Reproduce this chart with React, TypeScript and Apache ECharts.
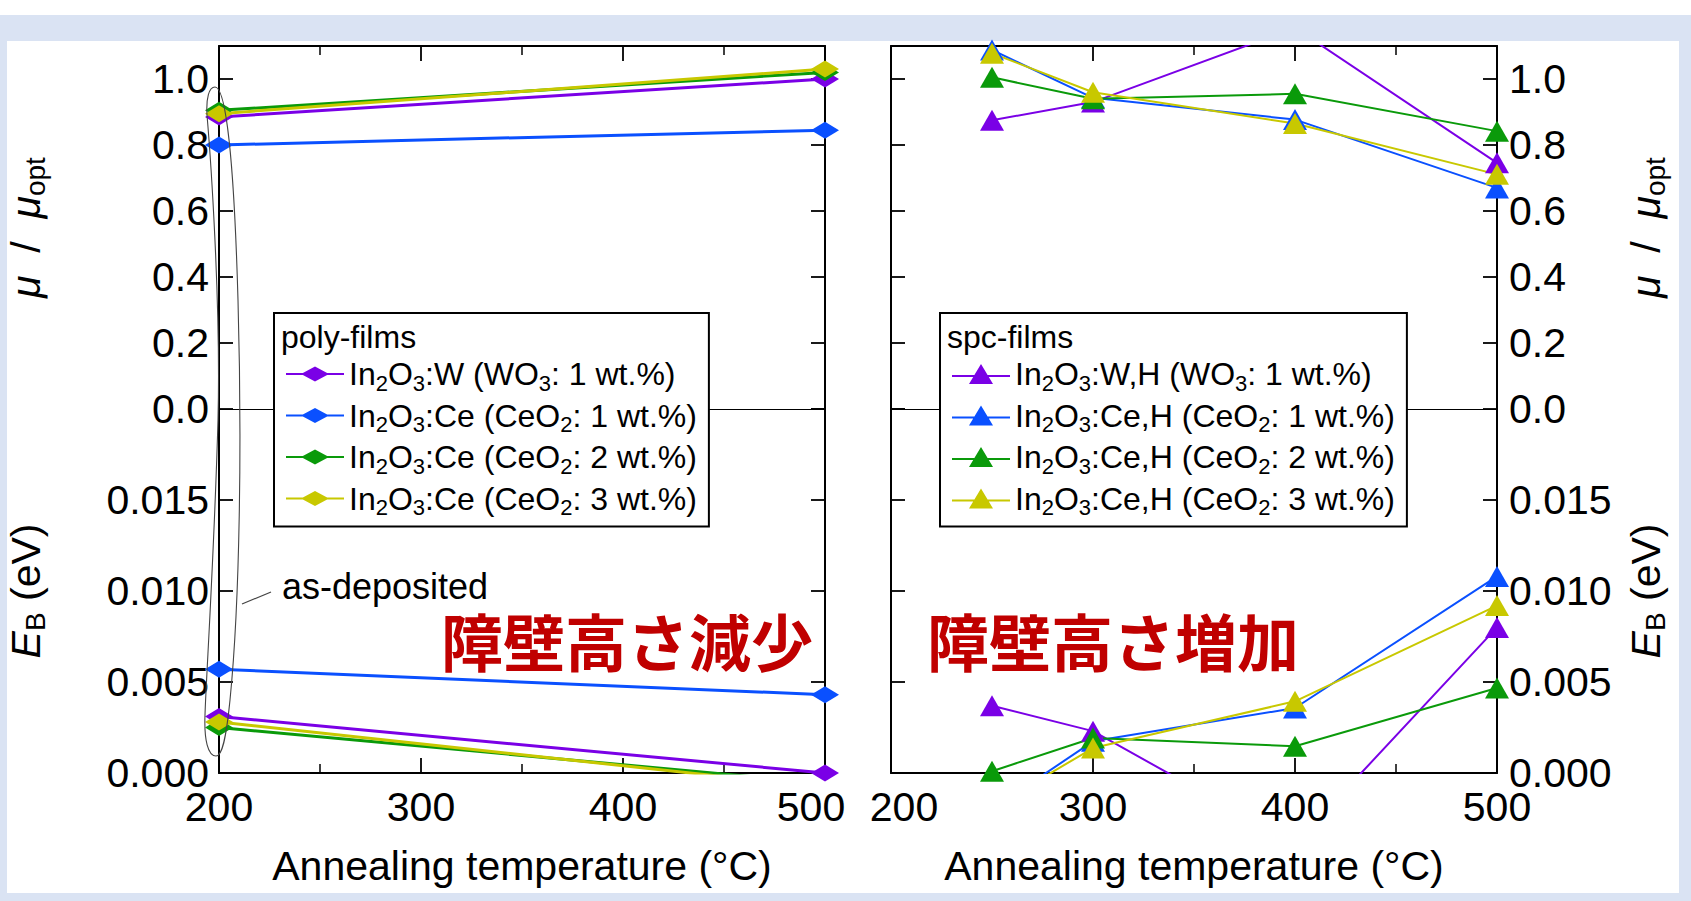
import React, { useEffect, useRef } from 'react';
import * as echarts from 'echarts';

// ---------- data ----------
const tempsPoly = [200, 500];
const tempsSpc = [250, 300, 400, 500];

const polyNames = [
  'In2O3:W (WO3: 1 wt.%)',
  'In2O3:Ce (CeO2: 1 wt.%)',
  'In2O3:Ce (CeO2: 2 wt.%)',
  'In2O3:Ce (CeO2: 3 wt.%)',
];
const spcNames = [
  'In2O3:W,H (WO3: 1 wt.%)',
  'In2O3:Ce,H (CeO2: 1 wt.%)',
  'In2O3:Ce,H (CeO2: 2 wt.%)',
  'In2O3:Ce,H (CeO2: 3 wt.%)',
];
const seriesColors = ['#7A00E6', '#0A50FF', '#0A9A0A', '#C8C800'];

// mobility ratio mu/mu_opt, poly-films
const muPolyW = [0.885, 1.0];
const muPolyCe1 = [0.8, 0.845];
const muPolyCe2 = [0.905, 1.02];
const muPolyCe3 = [0.895, 1.03];
// barrier height EB (eV), poly-films
const ebPolyW = [0.0031, 0.0];
const ebPolyCe1 = [0.0057, 0.0043];
const ebPolyCe2 = [0.0025, -0.00057];
const ebPolyCe3 = [0.0028, -0.0008];

// mobility ratio, spc-films
const muSpcW = [0.875, 0.93, 1.155, 0.746];
const muSpcCe1 = [1.088, 0.943, 0.877, 0.67];
const muSpcCe2 = [1.005, 0.94, 0.955, 0.842];
const muSpcCe3 = [1.078, 0.96, 0.865, 0.711];
// barrier height, spc-films
const ebSpcW = [0.0037, 0.0023, -0.0039, 0.008];
const ebSpcCe1 = [-0.002, 0.00174, 0.00357, 0.0108];
const ebSpcCe2 = [0.0001, 0.00192, 0.00147, 0.00467];
const ebSpcCe3 = [-0.0019, 0.00137, 0.00394, 0.0092];

const muPoly = [muPolyW, muPolyCe1, muPolyCe2, muPolyCe3];
const ebPoly = [ebPolyW, ebPolyCe1, ebPolyCe2, ebPolyCe3];
const muSpc = [muSpcW, muSpcCe1, muSpcCe2, muSpcCe3];
const ebSpc = [ebSpcW, ebSpcCe1, ebSpcCe2, ebSpcCe3];

// ---------- styling ----------
const FONT = "'Liberation Sans', Arial, Helvetica, sans-serif";
const TICK_FS = 41;
const NAME_FS = 41;
const LEG_FS = 32;

const diamondIcon =
  'path://M0,6.5 H16.87 L29,0 L41.13,6.5 H58 V8.5 H41.13 L29,15 L16.87,8.5 H0 Z';
const triangleIcon =
  'path://M0,11 H22.4 L29,0 L35.6,11 H58 V13 H36.8 L41,20 H17 L21.2,13 H0 Z';

const ellipsePath =
  'M215,87 C226,87 234,160 238,300 C242,440 240,600 230,700 C226,740 222,756 216,756 C208,756 204,740 205,715 C206,680 214,560 218,420 C221,300 210,150 207,115 C206,98 209,87 215,87 Z';

let shapeRegistered = false;
function registerShapes() {
  if (shapeRegistered) return;
  echarts.graphic.registerShape('asdepEllipse', echarts.graphic.extendPath(ellipsePath, {}));
  shapeRegistered = true;
}

function richName(s: string): string {
  let out = '';
  let buf = '';
  for (let i = 0; i < s.length; i++) {
    const c = s[i];
    if (/\d/.test(c) && i > 0 && /[A-Za-z]/.test(s[i - 1])) {
      if (buf) {
        out += `{n|${buf}}`;
        buf = '';
      }
      out += `{s|${c}}`;
    } else {
      buf += c;
    }
  }
  if (buf) out += `{n|${buf}}`;
  return out;
}

const legendRich = {
  n: { fontSize: LEG_FS, fontFamily: FONT, color: '#000', lineHeight: 34 },
  s: { fontSize: 22, fontFamily: FONT, color: '#000', lineHeight: 34, padding: [18, 0, 0, 0] },
};

const nameRich = {
  i: { fontSize: NAME_FS, fontFamily: FONT, fontStyle: 'italic', color: '#000', lineHeight: 46 },
  n: { fontSize: NAME_FS, fontFamily: FONT, color: '#000', lineHeight: 46 },
  s: { fontSize: 28, fontFamily: FONT, color: '#000', lineHeight: 46, padding: [18, 0, 0, 0] },
};

const muName = '{i|μ}{n|  /  }{i|μ}{s|opt}';
const ebName = '{i|E}{s|B}{n| (eV)}';

const LINE = { color: '#000', width: 2 };

function xAxisFull(gridIndex: number, position: 'top' | 'bottom', withLabels: boolean, shift: number) {
  return {
    type: 'value',
    gridIndex,
    position,
    min: 200,
    max: 500,
    interval: 100,
    axisLine: { show: true, onZero: false, lineStyle: LINE },
    axisTick: { show: true, inside: true, length: 15, lineStyle: { color: '#000', width: 1.8 } },
    minorTick: { show: true, splitNumber: 2, length: 9, lineStyle: { color: '#000', width: 1.5 } },
    splitLine: { show: false },
    minorSplitLine: { show: false },
    axisLabel: withLabels
      ? {
          show: true,
          margin: 13,
          color: '#000',
          fontSize: TICK_FS,
          fontFamily: FONT,
          formatter: (v: number) => {
            if (shift < 0 && v === 500) return '{r|500}';
            if (shift > 0 && v === 200) return '{l|200}';
            return String(v);
          },
          rich: {
            r: { fontSize: TICK_FS, fontFamily: FONT, color: '#000', padding: [0, -shift * 2, 0, 0] },
            l: { fontSize: TICK_FS, fontFamily: FONT, color: '#000', padding: [0, 0, 0, shift * 2] },
          },
        }
      : { show: false },
    name: withLabels ? 'Annealing temperature (°C)' : '',
    nameLocation: 'middle',
    nameGap: 72,
    nameTextStyle: { fontSize: NAME_FS, fontFamily: FONT, color: '#000' },
  };
}

function xAxisThin(gridIndex: number) {
  return {
    type: 'value',
    gridIndex,
    position: 'bottom',
    min: 200,
    max: 500,
    interval: 100,
    axisLine: { show: true, onZero: false, lineStyle: { color: '#000', width: 1 } },
    axisTick: { show: false },
    axisLabel: { show: false },
    splitLine: { show: false },
  };
}

function yAxis(
  gridIndex: number,
  position: 'left' | 'right',
  upper: boolean,
  withLabels: boolean,
) {
  const isLeft = position === 'left';
  return {
    type: 'value',
    gridIndex,
    position,
    min: 0,
    max: upper ? 1.1 : 0.02,
    interval: upper ? 0.2 : 0.005,
    axisLine: { show: true, onZero: false, lineStyle: LINE },
    axisTick: { show: true, inside: true, length: 14, lineStyle: { color: '#000', width: 1.8 } },
    splitLine: { show: false },
    axisLabel: withLabels
      ? {
          show: true,
          showMaxLabel: false,
          margin: isLeft ? 10 : 12,
          color: '#000',
          fontSize: TICK_FS,
          fontFamily: FONT,
          formatter: (v: number) => (upper ? v.toFixed(1) : v.toFixed(3)),
        }
      : { show: false },
    name: withLabels ? (upper ? muName : ebName) : '',
    nameLocation: 'middle',
    nameRotate: 90,
    nameGap: isLeft ? 170 : 126,
    nameTextStyle: { rich: nameRich, fontSize: NAME_FS, fontFamily: FONT, color: '#000' },
  };
}

function lineSeries(
  name: string,
  color: string,
  xs: number[],
  ys: number[],
  xAxisIndex: number,
  yAxisIndex: number,
  symbol: string,
  symbolSize: number[],
  width: number,
) {
  return {
    type: 'line',
    name,
    xAxisIndex,
    yAxisIndex,
    data: xs.map((x, i) => [x, ys[i]]),
    symbol,
    symbolSize,
    showSymbol: true,
    clip: true,
    itemStyle: { color, borderWidth: 0 },
    lineStyle: { color, width },
    emphasis: { disabled: true },
  };
}

function buildOption() {
  const series: any[] = [];
  for (let k = 0; k < 4; k++) {
    series.push(lineSeries(polyNames[k], seriesColors[k], tempsPoly, muPoly[k], 0, 0, 'diamond', [28, 17], 3));
    series.push(lineSeries(polyNames[k], seriesColors[k], tempsPoly, ebPoly[k], 2, 2, 'diamond', [28, 17], 3));
  }
  for (let k = 0; k < 4; k++) {
    series.push(lineSeries(spcNames[k], seriesColors[k], tempsSpc, muSpc[k], 3, 4, 'triangle', [24, 21], 2));
    series.push(lineSeries(spcNames[k], seriesColors[k], tempsSpc, ebSpc[k], 5, 6, 'triangle', [24, 21], 2));
  }

  const legendBase = {
    orient: 'vertical',
    top: 313,
    padding: [41, 12, 8, 12],
    itemGap: 1.5,
    itemWidth: 58,
    backgroundColor: '#fff',
    borderColor: '#000',
    borderWidth: 2,
    borderRadius: 0,
    selectedMode: false,
    formatter: (n: string) => richName(n),
    textStyle: { fontSize: LEG_FS, fontFamily: FONT, color: '#000', rich: legendRich },
    itemStyle: { borderWidth: 0 },
    z: 4,
  };

  return {
    animation: false,
    backgroundColor: '#DAE3F3',
    textStyle: { fontFamily: FONT },
    grid: [
      { left: 219, top: 46, width: 606, height: 363 },
      { left: 219, top: 409, width: 606, height: 364 },
      { left: 891, top: 46, width: 606, height: 363 },
      { left: 891, top: 409, width: 606, height: 364 },
    ],
    xAxis: [
      xAxisThin(0),
      xAxisFull(0, 'top', false, 0),
      xAxisFull(1, 'bottom', true, -14),
      xAxisThin(2),
      xAxisFull(2, 'top', false, 0),
      xAxisFull(3, 'bottom', true, 13),
    ],
    yAxis: [
      yAxis(0, 'left', true, true),
      yAxis(0, 'right', true, false),
      yAxis(1, 'left', false, true),
      yAxis(1, 'right', false, false),
      yAxis(2, 'left', true, false),
      yAxis(2, 'right', true, true),
      yAxis(3, 'left', false, false),
      yAxis(3, 'right', false, true),
    ],
    legend: [
      { ...legendBase, left: 274, data: polyNames, icon: diamondIcon, itemHeight: 15 },
      { ...legendBase, left: 940, data: spcNames, icon: triangleIcon, itemHeight: 20 },
    ],
    series,
    graphic: [
      { type: 'rect', silent: true, z: -10, shape: { x: 0, y: 0, width: 1691, height: 15 }, style: { fill: '#fff' } },
      { type: 'rect', silent: true, z: -10, shape: { x: 7, y: 41, width: 1672, height: 852 }, style: { fill: '#fff' } },
      {
        type: 'text', z: 10, x: 281, y: 337,
        style: { text: 'poly-films', fontSize: LEG_FS, fontFamily: FONT, fill: '#000', verticalAlign: 'middle' },
      },
      {
        type: 'text', z: 10, x: 947, y: 337,
        style: { text: 'spc-films', fontSize: LEG_FS, fontFamily: FONT, fill: '#000', verticalAlign: 'middle' },
      },
      {
        type: 'text', z: 10, x: 282, y: 586,
        style: { text: 'as-deposited', fontSize: 36, fontFamily: FONT, fill: '#000', verticalAlign: 'middle' },
      },
      {
        type: 'line', z: 10, silent: true,
        shape: { x1: 242, y1: 604, x2: 271, y2: 592 },
        style: { stroke: '#444', lineWidth: 1.2 },
      },
      {
        type: 'asdepEllipse', z: 10, silent: true, x: 0, y: 0, scaleX: 1, scaleY: 1,
        style: { fill: 'none', stroke: '#444', lineWidth: 1.1 },
      },
      {
        type: 'text', z: 10, x: 441, y: 640,
        style: {
          text: '障壁高さ減少', fontSize: 62, fontWeight: 'bold', fontFamily: "'Noto Sans CJK JP', sans-serif",
          fill: '#C00000', verticalAlign: 'middle',
        },
      },
      {
        type: 'text', z: 10, x: 927, y: 640,
        style: {
          text: '障壁高さ増加', fontSize: 62, fontWeight: 'bold', fontFamily: "'Noto Sans CJK JP', sans-serif",
          fill: '#C00000', verticalAlign: 'middle',
        },
      },
    ],
  };
}

export default function App() {
  const ref = useRef<HTMLDivElement>(null);
  useEffect(() => {
    if (!ref.current) return;
    registerShapes();
    const chart = echarts.init(ref.current, null, { renderer: 'svg' });
    chart.setOption(buildOption() as any);
    return () => chart.dispose();
  }, []);
  return (
    <div
      ref={ref}
      style={{ position: 'absolute', left: 0, top: 0, width: 1691, height: 901 }}
    />
  );
}
